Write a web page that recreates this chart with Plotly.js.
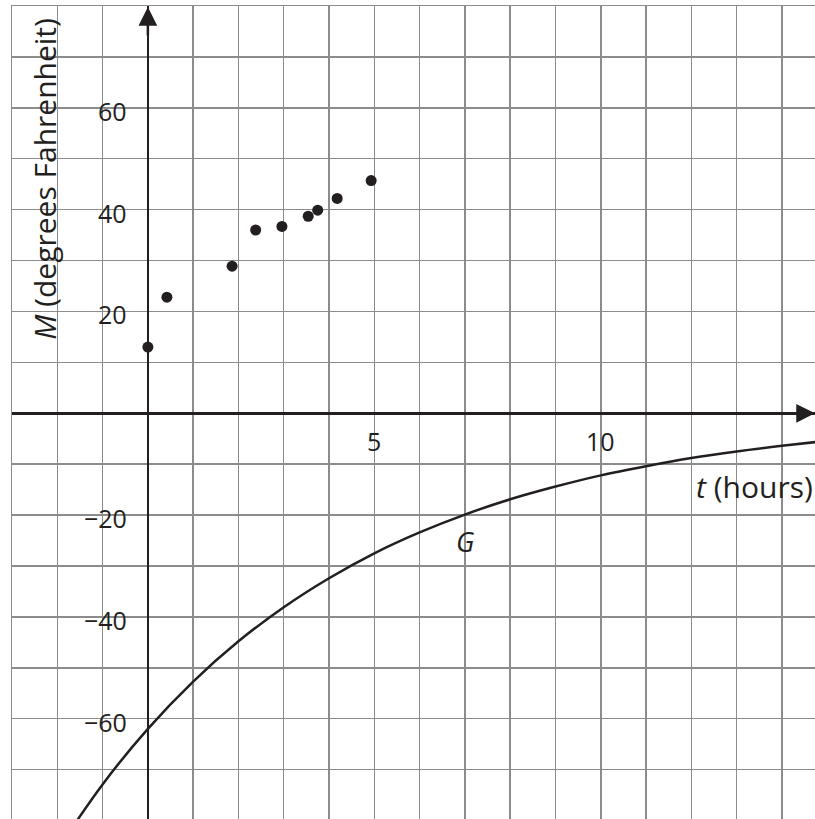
<!DOCTYPE html>
<html>
<head>
<meta charset="utf-8">
<script src="https://cdn.plot.ly/plotly-3.0.1.min.js"></script>
<style>html,body{margin:0;padding:0;background:#fff;}#chart{width:815px;height:819px;}</style>
</head>
<body>
<div id="chart"></div>
<script>
// Data points (t in hours, M in degrees Fahrenheit)
const pointT = [0, 0.42, 1.86, 2.38, 2.96, 3.54, 3.75, 4.18, 4.93];
const pointM = [13.0, 22.8, 28.9, 36.0, 36.7, 38.7, 39.9, 42.2, 45.7];

// Curve G, values read at each hour
const curveT = [-2, -1, 0, 1, 2, 3, 4, 5, 6, 7, 8, 9, 10, 11, 12, 13, 14, 15];
const curveM = [-85.8, -72.9, -62.0, -52.7, -44.8, -38.1, -32.4, -27.5, -23.4, -19.9, -16.9, -14.4, -12.2, -10.4, -8.8, -7.5, -6.4, -5.4];

// Tick labels
const yTickVals = [60, 40, 20, -20, -40, -60];
const yTickText = ["60", "40", "20", "\u221220", "\u221240", "\u221260"];
const xTickVals = [5, 10];
const xTickText = ["5", "10"];

const ink = "#231f20";
const tickFont = {family: "Open Sans, sans-serif", size: 25, color: ink};
const titleFont = {family: "Open Sans, sans-serif", size: 30, color: ink};
const labelFont = {family: "Open Sans, sans-serif", size: 27, color: ink};

const traces = [
  {x: curveT, y: curveM, type: "scatter", mode: "lines",
   line: {color: ink, width: 2.5, shape: "spline"}, hoverinfo: "skip"},
  {x: pointT, y: pointM, type: "scatter", mode: "markers",
   marker: {color: ink, size: 11}, hoverinfo: "skip"}
];

const annotations = [];
yTickVals.forEach((v, i) => annotations.push({
  x: -0.42, y: v, xref: "x", yref: "y", text: yTickText[i], showarrow: false,
  xanchor: "right", yanchor: "middle", yshift: -3, font: tickFont
}));
xTickVals.forEach((v, i) => annotations.push({
  x: v, y: 0, xref: "x", yref: "y", text: xTickText[i], showarrow: false,
  xanchor: "center", yanchor: "middle", yshift: -28, font: tickFont
}));
annotations.push({x: 1, xref: "paper", y: -14.3, yref: "y", text: "<i>t</i> (hours)",
  showarrow: false, xanchor: "right", yanchor: "middle", font: titleFont});
annotations.push({x: 7.01, y: -25.2, xref: "x", yref: "y", text: "<i>G</i>",
  showarrow: false, xanchor: "center", yanchor: "middle", font: labelFont});
annotations.push({x: -2.3, y: 46, xref: "x", yref: "y", text: "<i>M</i> (degrees Fahrenheit)",
  showarrow: false, textangle: -90, xanchor: "center", yanchor: "middle", font: titleFont});
// axis arrowheads
annotations.push({x: 0, y: 79.8, xref: "x", yref: "y", ax: 0, ay: 30, text: "",
  showarrow: true, arrowhead: 2, arrowsize: 1.5, arrowwidth: 2.5, arrowcolor: ink});
annotations.push({x: 14.73, y: 0, xref: "x", yref: "y", ax: -30, ay: 0, text: "",
  showarrow: true, arrowhead: 2, arrowsize: 1.5, arrowwidth: 2.5, arrowcolor: ink});

const layout = {
  width: 815, height: 819,
  margin: {l: 12, r: 0, t: 6, b: 0},
  paper_bgcolor: "#fff", plot_bgcolor: "#fff",
  showlegend: false,
  xaxis: {range: [-3, 14.73], dtick: 1, tick0: 0, showgrid: true, gridcolor: "#8c8c8c", gridwidth: 1.5,
          zeroline: true, zerolinecolor: ink, zerolinewidth: 2.5, showticklabels: false, ticks: "",
          showline: true, side: "top", linecolor: "#8c8c8c", linewidth: 1.5},
  yaxis: {range: [-79.7, 80], dtick: 10, tick0: 0, showgrid: true, gridcolor: "#8c8c8c", gridwidth: 1.5,
          zeroline: true, zerolinecolor: ink, zerolinewidth: 2.5, showticklabels: false, ticks: "",
          showline: true, linecolor: "#8c8c8c", linewidth: 1.5},
  annotations: annotations
};

Plotly.newPlot("chart", traces, layout, {staticPlot: true, displayModeBar: false});
</script>
</body>
</html>
